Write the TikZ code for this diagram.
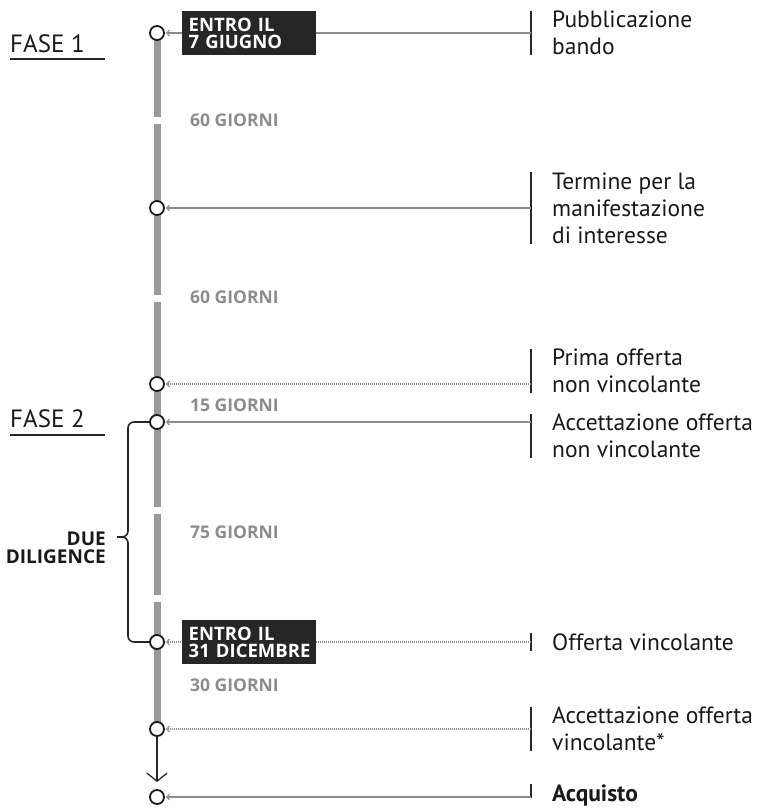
\documentclass[tikz,border=0pt]{standalone}
\usepackage{fontspec}
\setmainfont{PT Sans}
\newfontfamily\capsfont{Open Sans}
\usetikzlibrary{arrows.meta}
\tikzset{
  ev/.style={circle, draw=black!90, fill=white, line width=1.8pt, minimum size=14pt, inner sep=0pt},
  lbl/.style={anchor=west, align=left, inner sep=0pt, font=\fontsize{23.5}{27}\selectfont, text=black!90},
  conn/.style={draw=black!45, line width=1.1pt, shorten >=1pt, -{Straight Barb[length=3pt,width=6pt]}},
  dconn/.style={conn, dash pattern=on 1.2pt off 0.8pt},
  tickline/.style={line width=1.3pt, black!85},
  days/.style={anchor=west, inner sep=0pt, text=black!45, font=\capsfont\bfseries\fontsize{17.5}{17.5}\selectfont},
  datebox/.style={anchor=west, fill=black!85, text=white, align=left, text width=121pt, inner xsep=6.5pt, inner ysep=0pt, minimum height=44pt, font=\capsfont\bfseries\fontsize{18.5}{17}\selectfont},
  bar/.style={line width=7pt, black!40},
  phase/.style={anchor=south west, inner sep=0pt, font=\fontsize{25}{25}\selectfont, text=black!90},
  phaseline/.style={line width=1.5pt, black!85},
  bracestyle/.style={line width=1.6pt, black!85, rounded corners=6pt},
}
\begin{document}
\begin{tikzpicture}[x=1pt,y=-1pt]
\useasboundingbox (0,0) rectangle (771,808);

% gray timeline bar with small gaps
\coordinate (b0) at (157,33);
\coordinate (g1a) at (157,117); \coordinate (g1b) at (157,124);
\coordinate (g2a) at (157,295); \coordinate (g2b) at (157,302);
\coordinate (g3a) at (157,507); \coordinate (g3b) at (157,514);
\coordinate (g4a) at (157,595); \coordinate (g4b) at (157,602);
\coordinate (b1) at (157,729);
\draw[bar] (b0) -- (g1a);
\draw[bar] (g1b) -- (g2a);
\draw[bar] (g2b) -- (g3a);
\draw[bar] (g3b) -- (g4a);
\draw[bar] (g4b) -- (b1);

% events
\node[ev] (c1) at (157,33) {};
\node[ev] (c2) at (157,208) {};
\node[ev] (c3) at (157,384) {};
\node[ev] (c4) at (157,422) {};
\node[ev] (c5) at (157,642) {};
\node[ev] (c6) at (157,729) {};
\node[ev] (c7) at (157,797) {};

% final arrow
\coordinate (aend) at (157,782);
\draw[line width=1.3pt, black!85, -{Straight Barb[length=8pt,width=20pt,line width=1.3pt]}] (c6.south) -- (aend);

% right labels
\node[lbl] (l1) at (552,33) {Pubblicazione\\bando};
\node[lbl] (l2) at (552,208) {Termine per la\\manifestazione\\di interesse};
\node[lbl] (l3) at (552,371) {Prima offerta\\non vincolante};
\node[lbl] (l4) at (552,436) {Accettazione offerta\\non vincolante};
\node[lbl] (l5) at (552,642) {Offerta vincolante};
\node[lbl] (l6) at (552,729) {Accettazione offerta\\vincolante*};
\node[lbl, font=\bfseries\fontsize{23.5}{27}\selectfont] (l7) at (552,795) {Acquisto};

% ticks
\foreach \i in {1,...,6} {
  \draw[tickline] ([xshift=-21pt]l\i.north west) -- ([xshift=-21pt]l\i.south west);
}
\draw[tickline] ([xshift=-21pt]l7.north west) -- ([xshift=-21pt,yshift=-3pt]l7.west);

% connectors
\coordinate (t1) at (531,33);
\coordinate (t2) at (531,208);
\coordinate (t3) at (531,384);
\coordinate (t4) at (531,422);
\coordinate (t5) at (531,642);
\coordinate (t6) at (531,729);
\coordinate (t7) at (531,797);
\draw[conn] (t1) -- (c1.east);
\draw[conn] (t2) -- (c2.east);
\draw[dconn] (t3) -- (c3.east);
\draw[conn] (t4) -- (c4.east);
\draw[dconn] (t5) -- (c5.east);
\draw[dconn] (t6) -- (c6.east);
\draw[conn] (t7) -- (c7.east);

% date boxes
\node[datebox] (d1) at (182,33.5) {\mbox{ENTRO IL}\\\mbox{7 GIUGNO}};
\node[datebox] (d2) at (182,642) {\mbox{ENTRO IL}\\\mbox{31 DICEMBRE}};

% durations
\node[days] (n1) at (190,120) {60 GIORNI};
\node[days] (n2) at (190,297) {60 GIORNI};
\node[days] (n3) at (190,405) {15 GIORNI};
\node[days] (n4) at (190,532) {75 GIORNI};
\node[days] (n5) at (190,685) {30 GIORNI};

% phases
\node[phase] (f1) at (10,53) {FASE 1};
\draw[phaseline] (10,59) -- (105,59);
\node[phase] (f2) at (10,428) {FASE 2};
\draw[phaseline] (10,435) -- (105,435);

% due diligence brace
\coordinate (bm) at (128,537);
\coordinate (bt) at (117,537);
\draw[bracestyle] (c4.west) -| (bm) -- (bt);
\draw[bracestyle] (c5.west) -| (bm) -- (bt);
\node[anchor=east, align=right, inner sep=0pt, text=black!90, font=\capsfont\bfseries\fontsize{19}{17.5}\selectfont] (dd) at (106,548) {DUE\\DILIGENCE};
\end{tikzpicture}
\end{document}
